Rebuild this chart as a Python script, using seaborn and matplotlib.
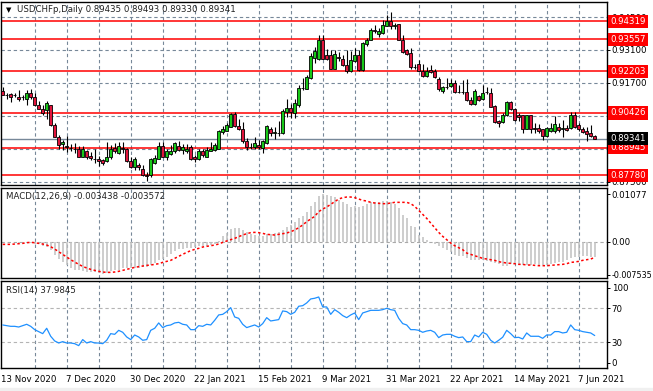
import numpy as np
import pandas as pd
import matplotlib
matplotlib.use("Agg")
import matplotlib.pyplot as plt
import matplotlib.transforms as mtransforms
import seaborn as sns

# USDCHFp daily candles (13 Nov 2020 .. 11 Jun 2021)
opens = [0.91360, 0.91202, 0.91232, 0.91168, 0.91118, 0.91084, 0.91007, 0.91262, 0.91092, 0.90777,
         0.90608, 0.90552, 0.90752, 0.89903, 0.89419, 0.89109, 0.89003, 0.88939, 0.88909, 0.88909,
         0.88570, 0.88824, 0.88599, 0.88493, 0.88459, 0.88429, 0.88399, 0.88544, 0.88939, 0.88714,
         0.88918, 0.88909, 0.88374, 0.88119, 0.88229, 0.88034, 0.87780, 0.87780, 0.88314, 0.88485,
         0.89024, 0.88544, 0.88684, 0.88799, 0.89024, 0.88854, 0.88799, 0.88969, 0.88544, 0.88459,
         0.88824, 0.88570, 0.88824, 0.88854, 0.88909, 0.89618, 0.89673, 0.89843, 0.90382, 0.89873,
         0.89733, 0.89224, 0.88994, 0.88969, 0.89079, 0.88939, 0.89140, 0.89733, 0.89563, 0.89563,
         0.89563, 0.90467, 0.90637, 0.90437, 0.90752, 0.91487, 0.91458, 0.91911, 0.92760, 0.92705,
         0.93525, 0.92900, 0.92900, 0.92306, 0.92790, 0.92705, 0.92450, 0.92221, 0.92645, 0.92900,
         0.92251, 0.93368, 0.93538, 0.93928, 0.93766, 0.93822, 0.94131, 0.94331, 0.94131, 0.94191,
         0.93538, 0.93100, 0.92985, 0.92378, 0.92505, 0.92208, 0.91996, 0.92238, 0.92208, 0.91881,
         0.91347, 0.91529, 0.91551, 0.91691, 0.91317, 0.91317, 0.91304, 0.90977, 0.90807, 0.91147,
         0.91007, 0.91317, 0.91287, 0.90722, 0.90098, 0.90043, 0.90327, 0.90892, 0.90608, 0.90327,
         0.90327, 0.89758, 0.90327, 0.89788, 0.89788, 0.89733, 0.89448, 0.89648, 0.89648, 0.89843,
         0.89758, 0.89788, 0.89788, 0.90327, 0.89903, 0.89758, 0.89673, 0.89563, 0.89435]
highs = [0.91542, 0.91262, 0.91287, 0.91262, 0.91402, 0.91202, 0.91402, 0.91431, 0.91262, 0.90922,
         0.90752, 0.90935, 0.90777, 0.89988, 0.89478, 0.89279, 0.89448, 0.89109, 0.89164, 0.89024,
         0.89024, 0.88854, 0.88769, 0.88884, 0.88599, 0.88485, 0.89194, 0.89079, 0.89140, 0.89194,
         0.89194, 0.88939, 0.88544, 0.88570, 0.88289, 0.88229, 0.87920, 0.88514, 0.88642, 0.89194,
         0.89194, 0.88909, 0.89054, 0.89194, 0.89249, 0.89109, 0.89109, 0.89054, 0.88654, 0.88909,
         0.88884, 0.88994, 0.89194, 0.89140, 0.89703, 0.89873, 0.90013, 0.90412, 0.90467, 0.90158,
         0.90028, 0.89364, 0.89151, 0.89393, 0.89279, 0.89279, 0.89903, 0.89831, 0.89843, 0.90098,
         0.90582, 0.91007, 0.90807, 0.91033, 0.91601, 0.91911, 0.92026, 0.92985, 0.93227, 0.93724,
         0.93724, 0.93130, 0.93100, 0.93100, 0.93015, 0.92875, 0.93100, 0.93045, 0.93185, 0.93100,
         0.93440, 0.93623, 0.94021, 0.94161, 0.94047, 0.94361, 0.94586, 0.94726, 0.94246, 0.94216,
         0.93737, 0.93155, 0.93185, 0.92518, 0.92675, 0.92505, 0.92391, 0.92450, 0.92280, 0.91941,
         0.91571, 0.91911, 0.91881, 0.91826, 0.91601, 0.91826, 0.91856, 0.91118, 0.91458, 0.91177,
         0.91626, 0.91521, 0.91487, 0.90752, 0.90128, 0.90412, 0.90947, 0.90922, 0.90637, 0.90412,
         0.90352, 0.90352, 0.90352, 0.89988, 0.89958, 0.89758, 0.89843, 0.89988, 0.90297, 0.90013,
         0.90128, 0.89933, 0.90467, 0.90467, 0.89988, 0.89843, 0.89843, 0.89903, 0.89493]
lows = [0.91177, 0.91020, 0.90892, 0.91092, 0.90947, 0.90977, 0.90777, 0.91007, 0.90722, 0.90582,
        0.90352, 0.90170, 0.89873, 0.89393, 0.88884, 0.88854, 0.88769, 0.88799, 0.88739, 0.88544,
        0.88544, 0.88485, 0.88429, 0.88289, 0.88174, 0.88229, 0.88344, 0.88485, 0.88739, 0.88684,
        0.88739, 0.88344, 0.88089, 0.88005, 0.88005, 0.87750, 0.87550, 0.87708, 0.88259, 0.88459,
        0.88544, 0.88429, 0.88629, 0.88739, 0.88824, 0.88684, 0.88739, 0.88429, 0.88344, 0.88429,
        0.88570, 0.88544, 0.88799, 0.88799, 0.88884, 0.89533, 0.89661, 0.89818, 0.89843, 0.89703,
        0.89164, 0.88854, 0.88884, 0.88909, 0.88909, 0.88714, 0.89109, 0.89448, 0.89321, 0.89448,
        0.89533, 0.90242, 0.90212, 0.90212, 0.90692, 0.91402, 0.91431, 0.91881, 0.92548, 0.92675,
        0.92705, 0.92675, 0.92280, 0.92280, 0.92645, 0.92420, 0.92111, 0.92166, 0.92590, 0.92221,
        0.92221, 0.93283, 0.93512, 0.93822, 0.93652, 0.93792, 0.94106, 0.93992, 0.93992, 0.93512,
        0.92985, 0.92900, 0.92293, 0.92280, 0.92196, 0.91941, 0.91941, 0.92111, 0.91911, 0.91372,
        0.91287, 0.91431, 0.91521, 0.91262, 0.91262, 0.91232, 0.90947, 0.90777, 0.90752, 0.90947,
        0.90977, 0.91232, 0.90667, 0.90013, 0.89818, 0.90013, 0.90297, 0.90552, 0.90098, 0.90073,
        0.89588, 0.89733, 0.89588, 0.89588, 0.89563, 0.89279, 0.89393, 0.89618, 0.89588, 0.89618,
        0.89393, 0.89661, 0.89758, 0.89788, 0.89661, 0.89563, 0.89249, 0.89393, 0.89330]
closes = [0.91202, 0.91177, 0.91092, 0.91177, 0.91033, 0.91092, 0.91262, 0.91092, 0.90752, 0.90608,
          0.90412, 0.90850, 0.89903, 0.89419, 0.89054, 0.89194, 0.88994, 0.88926, 0.88897, 0.88570,
          0.88909, 0.88570, 0.88514, 0.88485, 0.88374, 0.88289, 0.88544, 0.88909, 0.88799, 0.89024,
          0.88909, 0.88374, 0.88119, 0.88459, 0.88144, 0.87780, 0.87750, 0.88459, 0.88514, 0.89024,
          0.88570, 0.88799, 0.88824, 0.89140, 0.88854, 0.88969, 0.88909, 0.88485, 0.88459, 0.88824,
          0.88629, 0.88854, 0.88909, 0.89079, 0.89673, 0.89733, 0.89903, 0.90382, 0.89873, 0.89758,
          0.89224, 0.88969, 0.88982, 0.89164, 0.88969, 0.89224, 0.89873, 0.89563, 0.89639, 0.89576,
          0.90522, 0.90637, 0.90467, 0.90837, 0.91487, 0.91480, 0.91966, 0.92845, 0.93045, 0.93525,
          0.92730, 0.92730, 0.92306, 0.92930, 0.92781, 0.92450, 0.92208, 0.92675, 0.92888, 0.92251,
          0.93397, 0.93538, 0.93962, 0.93919, 0.93907, 0.94161, 0.94331, 0.94131, 0.94148, 0.93538,
          0.93028, 0.92943, 0.92378, 0.92391, 0.92208, 0.91983, 0.92221, 0.92166, 0.91966, 0.91431,
          0.91521, 0.91521, 0.91691, 0.91317, 0.91304, 0.91304, 0.90977, 0.90807, 0.91359, 0.90977,
          0.91287, 0.91296, 0.90692, 0.90043, 0.90013, 0.90327, 0.90892, 0.90608, 0.90128, 0.90242,
          0.89758, 0.90327, 0.89758, 0.89758, 0.89673, 0.89448, 0.89788, 0.89788, 0.89958, 0.89703,
          0.89767, 0.89703, 0.90327, 0.89818, 0.89733, 0.89618, 0.89533, 0.89436, 0.89341]

# MACD(12,26,9): main line (histogram) and signal (dotted)
macd_main = [-0.00010, -0.00010, -0.00010, -0.00015, -0.00020, -0.00020, -0.00020, -0.00030, -0.00045, -0.00060,
             -0.00091, -0.00114, -0.00189, -0.00303, -0.00394, -0.00470, -0.00530, -0.00591, -0.00636, -0.00652,
             -0.00667, -0.00697, -0.00697, -0.00697, -0.00720, -0.00735, -0.00712, -0.00667, -0.00652, -0.00636,
             -0.00606, -0.00606, -0.00606, -0.00591, -0.00591, -0.00576, -0.00576, -0.00530, -0.00485, -0.00424,
             -0.00394, -0.00348, -0.00273, -0.00212, -0.00167, -0.00167, -0.00152, -0.00136, -0.00121, -0.00106,
             -0.00106, -0.00091, -0.00076, -0.00061, 0.00015, 0.00121, 0.00197, 0.00288, 0.00318, 0.00318,
             0.00273, 0.00227, 0.00167, 0.00152, 0.00121, 0.00121, 0.00167, 0.00182, 0.00197, 0.00212,
             0.00273, 0.00333, 0.00379, 0.00439, 0.00530, 0.00591, 0.00682, 0.00803, 0.00909, 0.01030,
             0.01077, 0.01060, 0.01045, 0.01015, 0.00939, 0.00894, 0.00848, 0.00788, 0.00818, 0.00788,
             0.00818, 0.00848, 0.00894, 0.00909, 0.00909, 0.00924, 0.00924, 0.00909, 0.00848, 0.00758,
             0.00606, 0.00530, 0.00364, 0.00333, 0.00152, 0.00106, 0.00045, -0.00005, -0.00045, -0.00091,
             -0.00136, -0.00197, -0.00227, -0.00303, -0.00318, -0.00318, -0.00364, -0.00409, -0.00424, -0.00424,
             -0.00424, -0.00439, -0.00455, -0.00485, -0.00515, -0.00561, -0.00545, -0.00515, -0.00515, -0.00530,
             -0.00530, -0.00530, -0.00530, -0.00515, -0.00530, -0.00530, -0.00530, -0.00500, -0.00485, -0.00455,
             -0.00455, -0.00409, -0.00379, -0.00348, -0.00348, -0.00333, -0.00333, -0.00348, -0.003438]
macd_signal = [-0.00061, -0.00061, -0.00061, -0.00053, -0.00045, -0.00038, -0.00023, -0.00015, -0.00023, -0.00038,
               -0.00053, -0.00076, -0.00114, -0.00167, -0.00227, -0.00288, -0.00348, -0.00409, -0.00462, -0.00515,
               -0.00561, -0.00598, -0.00629, -0.00652, -0.00674, -0.00689, -0.00697, -0.00697, -0.00689, -0.00674,
               -0.00652, -0.00629, -0.00606, -0.00583, -0.00568, -0.00553, -0.00538, -0.00530, -0.00515, -0.00500,
               -0.00470, -0.00447, -0.00424, -0.00379, -0.00333, -0.00288, -0.00242, -0.00205, -0.00174, -0.00152,
               -0.00121, -0.00106, -0.00091, -0.00076, -0.00053, -0.00015, 0.00015, 0.00045, 0.00076, 0.00114,
               0.00152, 0.00182, 0.00205, 0.00212, 0.00205, 0.00189, 0.00167, 0.00159, 0.00152, 0.00167,
               0.00182, 0.00197, 0.00227, 0.00265, 0.00318, 0.00379, 0.00455, 0.00515, 0.00576, 0.00682,
               0.00742, 0.00788, 0.00848, 0.00909, 0.00970, 0.01000, 0.01015, 0.01015, 0.01000, 0.00970,
               0.00939, 0.00924, 0.00894, 0.00879, 0.00871, 0.00864, 0.00864, 0.00879, 0.00894, 0.00894,
               0.00894, 0.00894, 0.00864, 0.00803, 0.00712, 0.00621, 0.00530, 0.00424, 0.00318, 0.00212,
               0.00121, 0.00045, -0.00030, -0.00091, -0.00136, -0.00182, -0.00258, -0.00288, -0.00318, -0.00348,
               -0.00379, -0.00394, -0.00409, -0.00424, -0.00455, -0.00470, -0.00485, -0.00492, -0.00500, -0.00515,
               -0.00515, -0.00530, -0.00530, -0.00538, -0.00545, -0.00545, -0.00545, -0.00538, -0.00530, -0.00523,
               -0.00515, -0.00500, -0.00470, -0.00462, -0.00447, -0.00424, -0.00409, -0.00394, -0.003572]

# RSI(14)
rsi = [50.4, 49.6, 48.8, 48.8, 48.0, 49.6, 51.2, 48.8, 44.9, 42.6,
       40.2, 46.5, 37.1, 31.6, 29.2, 30.8, 29.2, 29.2, 28.4, 26.1,
       33.2, 29.2, 30.8, 29.2, 29.2, 28.4, 32.4, 40.2, 39.4, 44.1,
       41.8, 36.3, 33.2, 38.6, 36.3, 32.4, 33.2, 44.1, 46.5, 52.8,
       47.3, 49.6, 50.4, 52.8, 53.5, 51.2, 50.4, 44.9, 44.9, 49.6,
       48.8, 51.2, 50.4, 55.9, 62.2, 62.9, 66.1, 70.8, 59.8, 58.2,
       51.2, 47.3, 48.8, 50.4, 48.0, 52.0, 59.0, 55.1, 55.9, 56.7,
       66.9, 66.1, 62.9, 65.3, 72.4, 73.1, 76.3, 81.0, 81.8, 83.3,
       71.6, 71.6, 62.9, 68.4, 65.3, 61.4, 59.0, 62.2, 64.5, 56.7,
       64.5, 66.1, 67.6, 67.6, 67.6, 68.4, 70.0, 68.4, 67.6, 58.2,
       52.0, 50.4, 44.9, 44.9, 44.1, 41.8, 43.3, 44.1, 41.8, 35.5,
       38.6, 39.4, 39.4, 37.1, 35.5, 36.3, 30.8, 30.8, 38.6, 36.3,
       41.8, 39.4, 32.4, 29.2, 32.4, 36.0, 44.1, 40.2, 35.5, 35.9,
       33.9, 41.0, 37.1, 37.1, 37.1, 34.7, 38.6, 38.6, 42.6, 42.6,
       41.0, 41.8, 50.4, 44.9, 44.1, 42.6, 41.8, 41.0, 37.98]

levels = [0.94319, 0.93557, 0.92203, 0.90426, 0.88945, 0.87780]
bid = 0.89341
price_ticks = [0.875, 0.889, 0.903, 0.917, 0.931, 0.945]
price_tick_labels = ["0.87500", "", "0.90300", "0.91700", "0.93100", "0.94500"]
date_labels = ["13 Nov 2020", "7 Dec 2020", "30 Dec 2020", "22 Jan 2021", "15 Feb 2021",
               "9 Mar 2021", "31 Mar 2021", "22 Apr 2021", "14 May 2021", "7 Jun 2021"]

sns.set_style("white")
plt.rcParams['font.family'] = ['DejaVu Sans']
FS = 6.2

df = pd.DataFrame({'open': opens, 'high': highs, 'low': lows, 'close': closes,
                   'macd': macd_main, 'signal': macd_signal, 'rsi': rsi})
df['bar'] = np.arange(len(df))

W, H = 653, 391
fig = plt.figure(figsize=(W / 100, H / 100), dpi=100)
fig.patch.set_facecolor('white')


def add_panel(top, bottom, left=1.3, right=607.3):
    return fig.add_axes([left / W, 1 - bottom / H, (right - left) / W, (bottom - top) / H])


ax = add_panel(1.5, 185)
ax_macd = add_panel(188, 278)
ax_rsi = add_panel(281, 368)

grid_col = '#778899'
for a in (ax, ax_macd, ax_rsi):
    a.set_xlim(-0.35, 151.15)
    a.set_facecolor('white')
    for s in a.spines.values():
        s.set_color('black')
        s.set_linewidth(1.0)
    a.set_xticks([])
    a.yaxis.tick_right()
    a.tick_params(axis='y', length=2, width=0.7, labelsize=FS, pad=1.2, colors='black')
    for b in range(8, 150, 8):
        a.axvline(b, color=grid_col, lw=0.8, ls=(0, (3, 2.5)), zorder=0)

# --- main price panel
ax.set_ylim(0.87368, 0.95159)
for p in price_ticks:
    ax.axhline(p, color=grid_col, lw=0.8, ls=(0, (3, 2.5)), zorder=0)
ax.set_yticks(price_ticks)
ax.set_yticklabels(price_tick_labels)

for lv in levels:
    ax.axhline(lv, color='#ff0000', lw=1.1, zorder=1)
ax.axhline(bid, color='#778899', lw=1.0, zorder=1)

up = df['close'] >= df['open']
body_lo = np.minimum(df['open'], df['close'])
body_h = (df['close'] - df['open']).abs()
ax.vlines(df['bar'], df['low'], df['high'], color='black', lw=0.8, zorder=2)
ax.bar(df['bar'][up], body_h[up], bottom=body_lo[up], width=0.72,
       color='#18c818', edgecolor='black', linewidth=0.6, zorder=3)
ax.bar(df['bar'][~up], body_h[~up], bottom=body_lo[~up], width=0.72,
       color='#e0143c', edgecolor='black', linewidth=0.6, zorder=3)

tr = mtransforms.blended_transform_factory(fig.transFigure, ax.transData)
for lv in levels:
    ax.text(610.5 / W, lv, f"{lv:.5f}", transform=tr, ha='left', va='center', fontsize=FS,
            color='white', zorder=10, clip_on=False,
            bbox=dict(boxstyle='square,pad=0.24', fc='#ff0000', ec='none'))
ax.text(610.5 / W, bid, f"{bid:.5f}", transform=tr, ha='left', va='center', fontsize=FS,
        color='white', zorder=10, clip_on=False,
        bbox=dict(boxstyle='square,pad=0.24', fc='black', ec='none'))

ax.text(6 / W, 1 - 10 / H, "\u25bc", transform=fig.transFigure, fontsize=5,
        ha='left', va='center', color='black')
ax.text(17 / W, 1 - 10 / H, "USDCHFp,Daily 0.89435 0.89493 0.89330 0.89341",
        transform=fig.transFigure, fontsize=FS, ha='left', va='center', color='#202020')

# --- MACD panel
ax_macd.set_ylim(-0.00825, 0.0122)
ax_macd.axhline(0, color='#a9a9a9', lw=0.8, ls=(0, (3, 2.5)), zorder=0)
ax_macd.vlines(df['bar'], 0, df['macd'], color='#c0c0c0', lw=1.1, zorder=2)
sns.lineplot(data=df, x='bar', y='signal', ax=ax_macd, color='#ff0000', lw=1.1,
             linestyle=(0, (1.6, 1.6)), zorder=3)
ax_macd.set_xlabel('')
ax_macd.set_ylabel('')
ax_macd.set_yticks([-0.007535, 0.0, 0.01077])
ax_macd.set_yticklabels(['-0.007535', '0.00', '0.01077'])
ax_macd.get_yticklabels()[0].set_fontsize(5.8)
ax_macd.set_xlim(-0.35, 151.15)
ax_macd.set_xticks([])
ax_macd.text(6 / W, 1 - 197 / H, "MACD(12,26,9) -0.003438 -0.003572", transform=fig.transFigure,
             fontsize=FS, ha='left', va='center', color='#202020')

# --- RSI panel
ax_rsi.set_ylim(-0.2, 102.1)
for lv in (70, 30):
    ax_rsi.axhline(lv, color='#b4b4b4', lw=0.8, ls=(0, (3, 2.5)), zorder=0)
sns.lineplot(data=df, x='bar', y='rsi', ax=ax_rsi, color='#1e90ff', lw=0.9, zorder=3)
ax_rsi.set_xlabel('')
ax_rsi.set_ylabel('')
ax_rsi.set_yticks([6.0, 30, 70, 94.2])
ax_rsi.set_yticklabels(['0', '30', '70', '100'])
ax_rsi.set_xlim(-0.35, 151.15)
ax_rsi.set_xticks([])
ax_rsi.text(6 / W, 1 - 290 / H, "RSI(14) 37.9845", transform=fig.transFigure,
            fontsize=FS, ha='left', va='center', color='#202020')

# date labels every 16 bars
trx = mtransforms.blended_transform_factory(ax_rsi.transData, fig.transFigure)
for k, lab in enumerate(date_labels):
    ax_rsi.text(16 * k - 0.3, 1 - 379 / H, lab, transform=trx, fontsize=FS,
                ha='left', va='center', color='black', clip_on=False)

fig.patches.append(plt.Rectangle((0, 0), 1, 3 / H, transform=fig.transFigure,
                                 color='#f0f0f0', zorder=0))

fig.savefig('out.png', dpi=100)
plt.close(fig)
